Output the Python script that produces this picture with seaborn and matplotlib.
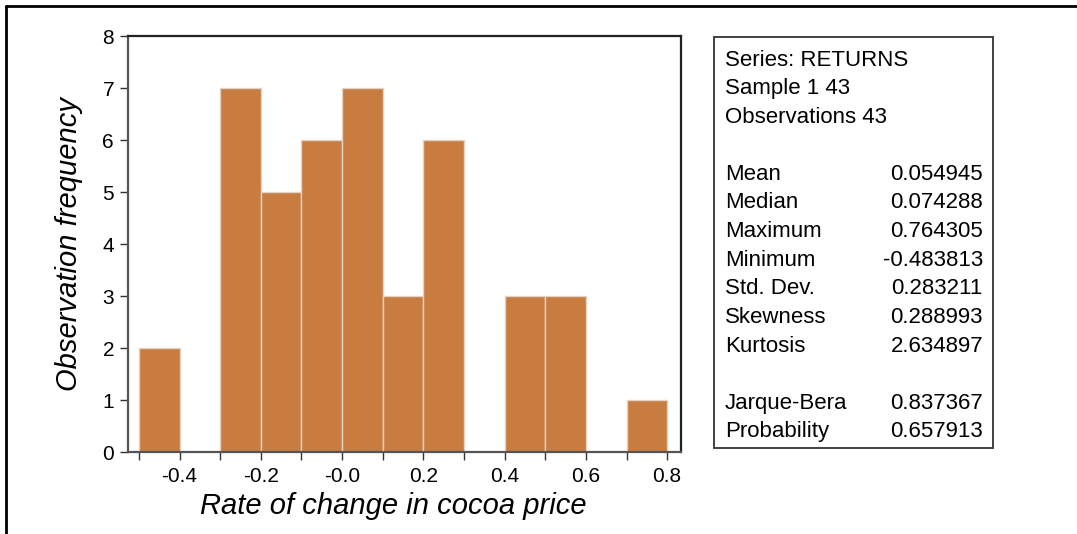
import numpy as np
import pandas as pd
import matplotlib
matplotlib.use("Agg")
import matplotlib.pyplot as plt
import seaborn as sns
from matplotlib.patches import Rectangle
from matplotlib.lines import Line2D

# histogram bins (width 0.1) and counts
bin_edges = [-0.5, -0.4, -0.3, -0.2, -0.1, 0.0, 0.1, 0.2, 0.3, 0.4, 0.5, 0.6, 0.7, 0.8]
counts = [2, 0, 7, 5, 6, 7, 3, 6, 0, 3, 3, 0, 1]

header_lines = ["Series: RETURNS", "Sample 1 43", "Observations 43"]
stat_names = ["Mean", "Median", "Maximum", "Minimum", "Std. Dev.", "Skewness", "Kurtosis"]
stat_values = ["0.054945", "0.074288", "0.764305", "-0.483813", "0.283211", "0.288993", "2.634897"]
test_names = ["Jarque-Bera", "Probability"]
test_values = ["0.837367", "0.657913"]

sns.set_style("white")
plt.rcParams["font.family"] = ["Liberation Sans", "DejaVu Sans"]
plt.rcParams["text.color"] = "black"
plt.rcParams["axes.labelcolor"] = "black"
plt.rcParams["xtick.color"] = "black"
plt.rcParams["ytick.color"] = "black"

W, H = 1077, 534
fig = plt.figure(figsize=(W / 100, H / 100), dpi=100)

# axes in pixel box: left 128, right 681, top 36, bottom 452
ax = fig.add_axes([128 / W, 1 - 452 / H, (681 - 128) / W, (452 - 36) / H])

centers = [(a + b) / 2 for a, b in zip(bin_edges[:-1], bin_edges[1:])]
df = pd.DataFrame({"x": centers, "w": counts})
sns.histplot(data=df, x="x", weights="w", bins=bin_edges, ax=ax,
             color="#c97c40", alpha=1.0, edgecolor="#e2d2c4", linewidth=1.0)

ax.set_xlim(-0.527, 0.834)
ax.set_ylim(0, 8)
ax.set_xticks(np.round(np.arange(-0.4, 0.81, 0.2), 1))
ax.set_xticklabels(["-0.4", "-0.2", "-0.0", "0.2", "0.4", "0.6", "0.8"])
ax.set_xticks(np.round(np.arange(-0.5, 0.81, 0.1), 1), minor=True)
ax.set_yticks(range(0, 9))
ax.tick_params(axis="both", which="both", direction="out", length=6, width=1.0,
               color="#333333", labelsize=15, bottom=True, left=True)
ax.tick_params(axis="x", pad=5)
ax.tick_params(axis="y", pad=4)
for s in ["left", "bottom"]:
    ax.spines[s].set_color("#555555")
    ax.spines[s].set_linewidth(1.6)
for s in ["top", "right"]:
    ax.spines[s].set_color("#222222")
    ax.spines[s].set_linewidth(1.6)

ax.set_xlabel("Rate of change in cocoa price", fontsize=21, style="italic",
              labelpad=4, x=0.479)
ax.set_ylabel("Observation frequency", fontsize=21, style="italic", labelpad=14)

# outer figure frame (top and left)
fig.add_artist(Line2D([6 / W, 1], [1 - 6 / H, 1 - 6 / H], transform=fig.transFigure,
                      color="black", linewidth=2))
fig.add_artist(Line2D([6 / W, 6 / W], [0, 1 - 6 / H], transform=fig.transFigure,
                      color="black", linewidth=2))

# statistics box
bx0, bx1, by0, by1 = 714, 993, 37, 448
fig.add_artist(Rectangle((bx0 / W, 1 - by1 / H), (bx1 - bx0) / W, (by1 - by0) / H,
                         transform=fig.transFigure, fill=False,
                         edgecolor="#333333", linewidth=1.3))

fs = 16
tx_left = 725 / W
tx_right = 983 / W
step = 28.6
y = 60
for line in header_lines:
    fig.text(tx_left, 1 - y / H, line, fontsize=fs, va="center", ha="left")
    y += step
y += step
for name, val in zip(stat_names, stat_values):
    fig.text(tx_left, 1 - y / H, name, fontsize=fs, va="center", ha="left")
    fig.text(tx_right, 1 - y / H, val, fontsize=fs, va="center", ha="right")
    y += step
y += step
for name, val in zip(test_names, test_values):
    fig.text(tx_left, 1 - y / H, name, fontsize=fs, va="center", ha="left")
    fig.text(tx_right, 1 - y / H, val, fontsize=fs, va="center", ha="right")
    y += step

fig.savefig("out.png", dpi=100)
plt.close(fig)
